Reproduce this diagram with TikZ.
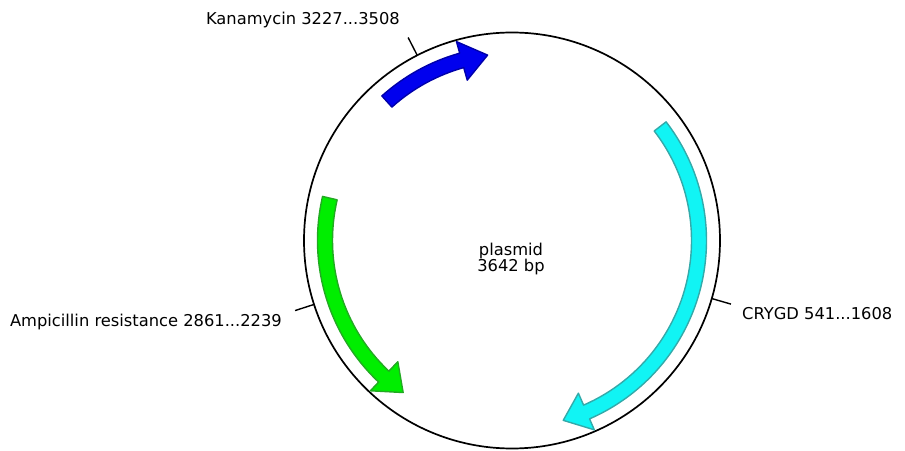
\documentclass[tikz,border=0pt]{standalone}
\usepackage{fontspec}
\setmainfont{DejaVu Sans}
\definecolor{kanfill}{HTML}{0000EE}
\definecolor{kanline}{HTML}{0000AA}
\definecolor{ampfill}{HTML}{00EE00}
\definecolor{ampline}{HTML}{22AA22}
\definecolor{cryfill}{HTML}{11F4F4}
\definecolor{cryline}{HTML}{33AAAA}
\newcommand{\plasarrow}[4]{%
  \draw[#4] (#1:194.5pt) arc[start angle=#1, end angle=#2, radius=194.5pt]
    -- (#2:206.5pt) -- (#3:187pt) -- (#2:166.5pt) -- (#2:179.5pt)
    arc[start angle=#2, end angle=#1, radius=179.5pt] -- cycle;}
\tikzset{
  featarrow/.style={line width=1.4pt, line join=round},
  backbone/.style={draw=black, line width=1.7pt, circle, minimum size=416pt, inner sep=0pt},
  ticks/.style={draw=black, line width=1.4pt},
  lbl/.style={inner sep=0pt, font=\fontsize{16.3}{17}\selectfont},
}
\begin{document}
\begin{tikzpicture}[x=1pt,y=1pt]
\useasboundingbox (0,0) rectangle (905,450);
\node[backbone] (plasmid) at (512,209.5) {};
\begin{scope}[shift={(512,209.5)}]
  \plasarrow{132}{105.6}{97.5}{featarrow, fill=kanfill, draw=kanline}
  \plasarrow{37.6}{-66.5}{-74.1}{featarrow, fill=cryfill, draw=cryline}
  \plasarrow{166.9}{226.7}{234.4}{featarrow, fill=ampfill, draw=ampline}
  \coordinate (kin) at (117.1:208pt);
  \coordinate (kout) at (117.1:228pt);
  \coordinate (ain) at (197.9:208pt);
  \coordinate (aout) at (197.9:228pt);
  \coordinate (cin) at (-16.2:208pt);
  \coordinate (cout) at (-16.2:228pt);
\end{scope}
\draw[ticks] (kin) -- (kout);
\draw[ticks] (ain) -- (aout);
\draw[ticks] (cin) -- (cout);
\node[lbl, anchor=base east] (kan) at (400,425) {Kanamycin 3227...3508};
\node[lbl, anchor=base east] (amp) at (282,123) {Ampicillin resistance 2861...2239};
\node[lbl, anchor=base west] (cry) at (742,130) {CRYGD 541...1608};
\node[lbl, anchor=base] (pname) at (511,194) {plasmid};
\node[lbl, anchor=base] (psize) at (511,178) {3642 bp};
\end{tikzpicture}
\end{document}
